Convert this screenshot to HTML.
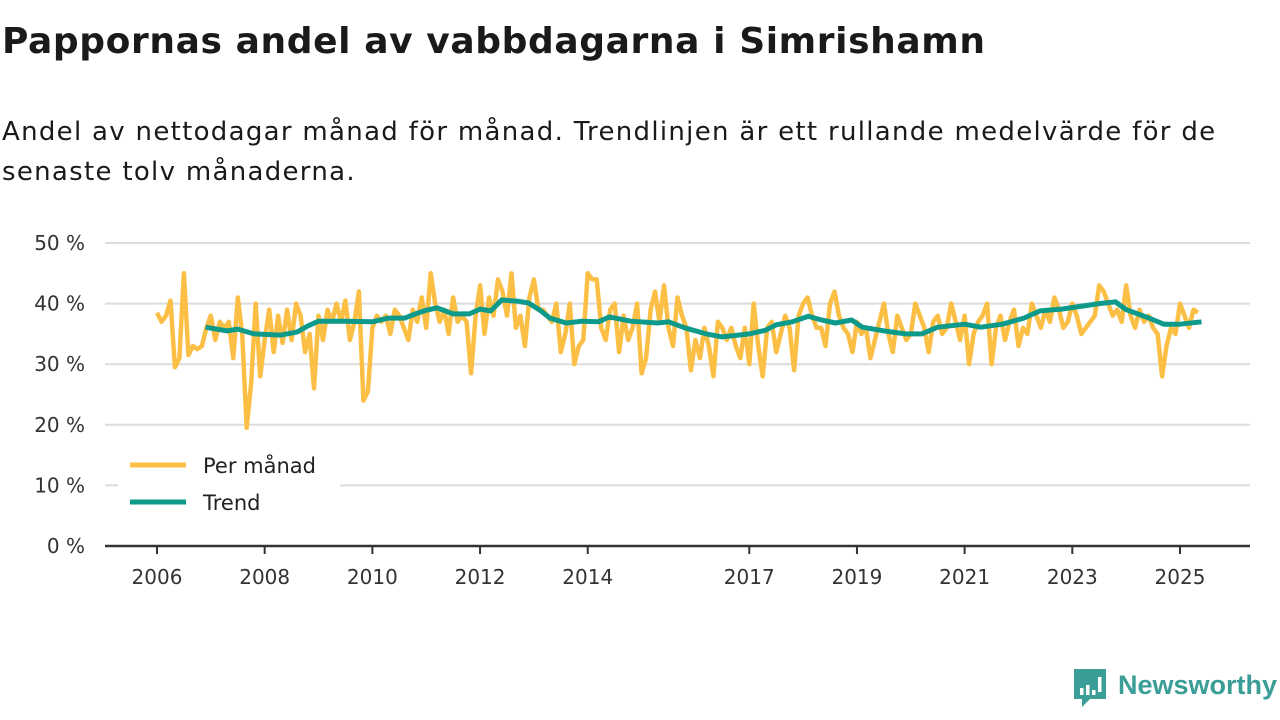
<!DOCTYPE html>
<html><head><meta charset="utf-8">
<style>
body{margin:0;width:1280px;height:720px;background:#fff;overflow:hidden;font-family:"DejaVu Sans","Liberation Sans",sans-serif;color:#1a1a1a;}
h1{position:absolute;left:2px;top:21px;margin:0;font-size:36px;font-weight:bold;letter-spacing:0.6px;white-space:nowrap;}
.sub{position:absolute;left:2px;top:112px;margin:0;font-size:26px;line-height:40px;width:1275px;letter-spacing:1.3px;white-space:nowrap;z-index:2;}
svg{position:absolute;left:0;top:0;font-family:"DejaVu Sans","Liberation Sans",sans-serif;z-index:1;}
</style></head><body>
<h1>Pappornas andel av vabbdagarna i Simrishamn</h1>
<p class="sub">Andel av nettodagar månad för månad. Trendlinjen är ett rullande medelvärde för de<br>senaste tolv månaderna.</p>
<svg id="chart" width="1280" height="720"></svg>
<script>
const yTicks=[0,10,20,30,40,50];
const xTickYears=[2006,2008,2010,2012,2014,2017,2019,2021,2023,2025];
const startYear=2006;
const monthly=[
38.5,37,38,40.5,29.5,31,45,31.5,33,32.5,33,36,
38,34,37,36,37,31,41,35,19.5,27,40,28,
34,39,32,38,33.5,39,34,40,38,32,35,26,
38,34,39,37,40,37,40.5,34,37,42,24,25.5,
36,38,37,38,35,39,38,36,34,39,37,41,
36,45,40,37,39,35,41,37,38,37,28.5,38,
43,35,41,38,44,42,38,45,36,38,33,41,
44,39,39,38,37,40,32,35,40,30,33,34,
45,44,44,36,34,39,40,32,38,34,36,40,
28.5,31,39,42,37,43,36,33,41,38,36,29,
34,31,36,33,28,37,36,34,36,33,31,36,
30,40,33,28,36,37,32,35,38,36,29,38,
40,41,38,36,36,33,40,42,38,36,35,32,
37,35,36,31,34,37,40,35,32,38,36,34,
35,40,38,36,32,37,38,35,36,40,37,34,
38,30,35,37,38,40,30,36,38,34,37,39,
33,36,35,40,38,36,39,37,41,39,36,37,
40,38,35,36,37,38,43,42,40,38,39,37,
43,38,36,39,37,38,36,35,28,33,36,35,
40,38,36,39,38.5];
const trendDates=[2006.9,2007.3,2007.5,2007.8,2008.3,2008.6,2008.8,2009.0,2009.5,2010.0,2010.3,2010.6,2010.8,2011.0,2011.2,2011.5,2011.8,2012.0,2012.2,2012.4,2012.7,2012.9,2013.1,2013.3,2013.6,2013.9,2014.2,2014.4,2014.8,2015.3,2015.5,2015.8,2016.2,2016.5,2016.8,2017.0,2017.3,2017.5,2017.8,2018.1,2018.3,2018.6,2018.9,2019.1,2019.5,2019.9,2020.2,2020.5,2021.0,2021.3,2021.7,2022.1,2022.4,2022.8,2023.2,2023.5,2023.8,2024.0,2024.4,2024.7,2025.0,2025.4];
const trendValues=[36.1,35.5,35.8,35.0,34.8,35.3,36.3,37.1,37.1,37.0,37.6,37.6,38.3,38.9,39.3,38.3,38.3,39.1,38.8,40.6,40.4,40.1,39.0,37.6,36.8,37.1,37.0,37.8,37.1,36.8,37.0,36.0,35.0,34.5,34.8,35.0,35.6,36.5,37.0,37.9,37.4,36.8,37.3,36.1,35.5,35.0,35.0,36.1,36.6,36.1,36.6,37.6,38.8,39.1,39.6,40.0,40.3,39.0,37.7,36.6,36.6,37.0];

const NS='http://www.w3.org/2000/svg';
const svg=document.getElementById('chart');
const X0=157,PX_YEAR=(1180-157)/19,Y0=546,PX_PCT=(546-243)/50;
const xScale=t=>X0+(t-startYear)*PX_YEAR;
const yScale=v=>Y0-v*PX_PCT;
function mk(tag,attrs){const e=document.createElementNS(NS,tag);for(const k in attrs)e.setAttribute(k,attrs[k]);svg.appendChild(e);return e;}

yTicks.forEach(v=>{
  if(v>0){const g=mk('line',{x1:105,x2:1250,y1:yScale(v),y2:yScale(v),stroke:'#dcdcdc','stroke-width':2});
  
  }
  const t=mk('text',{x:85,y:yScale(v)+7,'text-anchor':'end','font-size':20,fill:'#333'});
  t.textContent=v+' %';
  
  
});
const ax=mk('line',{x1:105,x2:1250,y1:Y0,y2:Y0,stroke:'#333','stroke-width':2.5});


xTickYears.forEach(yr=>{
  const x=xScale(yr);
  const tk=mk('line',{x1:x,x2:x,y1:Y0,y2:Y0+8,stroke:'#333','stroke-width':2});
  
  
  const t=mk('text',{x:x,y:584,'text-anchor':'middle','font-size':20,fill:'#333'});
  t.textContent=yr;
  
  
});
const mp=monthly.map((v,i)=>xScale(startYear+i/12).toFixed(1)+','+yScale(v).toFixed(1)).join(' ');
const ml=mk('polyline',{points:mp,fill:'none',stroke:'#fcbf45','stroke-width':4.5,'stroke-linejoin':'round'});


const tp=trendDates.map((d,i)=>xScale(d).toFixed(1)+','+yScale(trendValues[i]).toFixed(1)).join(' ');
const tl=mk('polyline',{points:tp,fill:'none',stroke:'#0e9a8a','stroke-width':5,'stroke-linejoin':'round'});



const lb=mk('rect',{x:118,y:445,width:222,height:78,fill:'#fff'});


[['Per månad','#fcbf45',465],['Trend','#0e9a8a',502]].forEach(([lab,col,y])=>{
  const l=mk('line',{x1:130,x2:186,y1:y,y2:y,stroke:col,'stroke-width':5});
  
  
  const t=mk('text',{x:203,y:y+8,'font-size':21,fill:'#222'});
  t.textContent=lab;
  
  
});

const logo=mk('path',{d:'M1074,669 h32 v30 h-16 l-8,8 v-8 h-8 z',fill:'#3a9e96'});


[[1080,688,7],[1086,685,10],[1092,690,5],[1098,677,15]].forEach(([x,y,h])=>{
  const b=mk('rect',{x:x,y:y,width:3.5,height:h,fill:'#fff'});
  
  
});
const lt=mk('text',{x:1118,y:694,'font-size':27,'font-weight':'bold',fill:'#3a9e96','font-family':'Liberation Sans, sans-serif'});
lt.textContent='Newsworthy';


</script>
</body></html>
